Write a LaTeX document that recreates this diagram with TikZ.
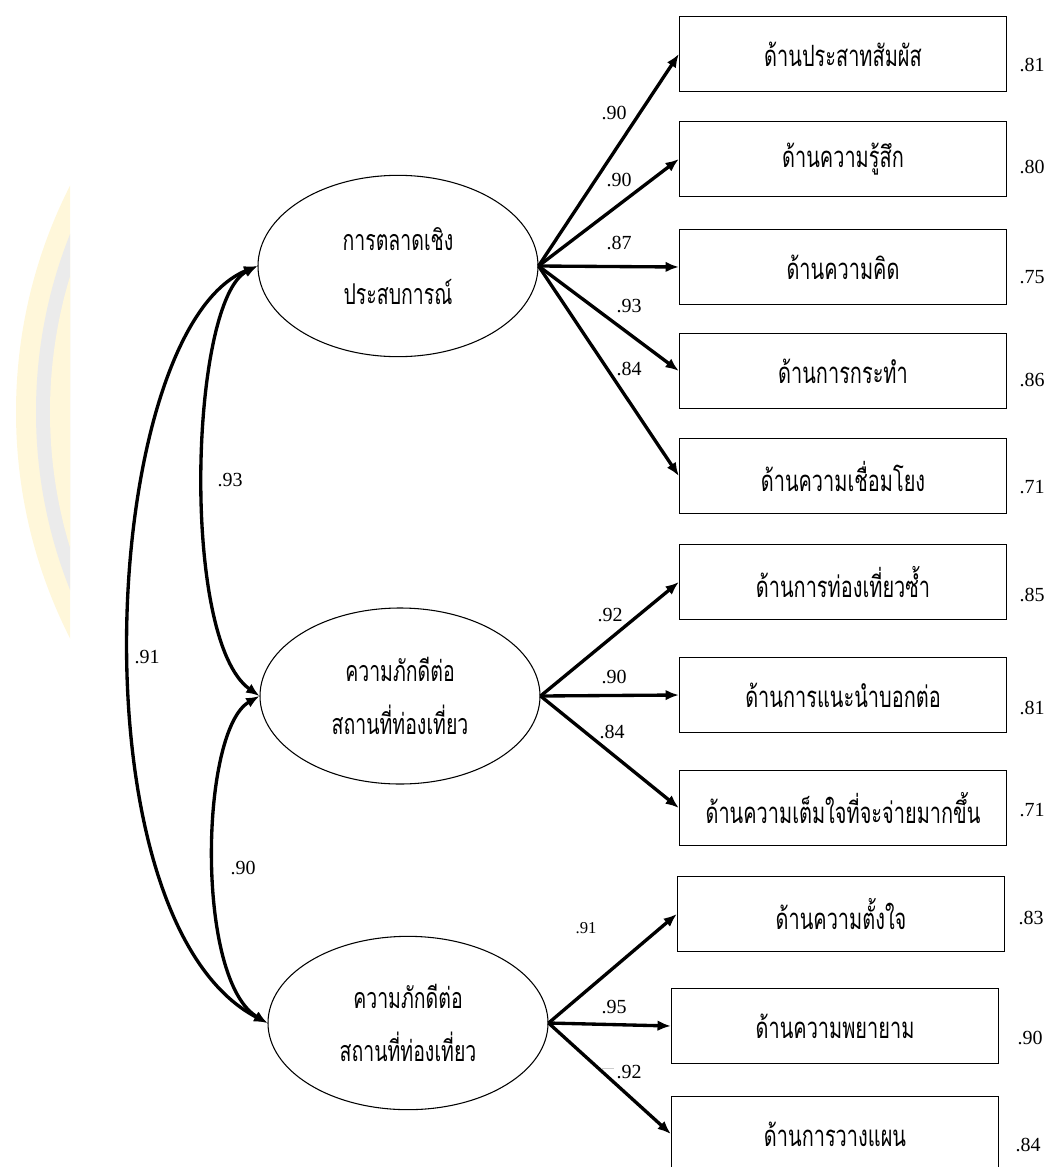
\documentclass[tikz,border=0pt]{standalone}
\usepackage{fontspec}
\setmainfont{Liberation Serif}
\newfontfamily\thai[Script=Thai,FakeStretch=0.68]{Loma}
\usetikzlibrary{arrows.meta,shapes.geometric}
\definecolor{wmyellow}{RGB}{255,247,218}
\definecolor{wmgray}{RGB}{235,235,235}
\tikzset{
  latent/.style={ellipse, draw, line width=0.8pt, minimum width=210pt, inner sep=0pt,
    font=\thai\fontsize{21.5}{40}\selectfont, align=center},
  obsbox/.style={rectangle, draw, line width=1.2pt, minimum width=245pt, minimum height=56pt,
    inner sep=0pt, font=\thai\fontsize{22}{24}\selectfont},
  loadarrow/.style={line width=2.5pt, -{Latex[length=10pt,width=8pt]}},
  covarrow/.style={line width=2.5pt, {Latex[length=10pt,width=8pt]}-{Latex[length=10pt,width=8pt]}},
  coef/.style={font=\fontsize{15}{17}\selectfont, inner sep=0pt},
  smallcoef/.style={font=\fontsize{12.5}{14}\selectfont, inner sep=0pt},
}
\begin{document}
\begin{tikzpicture}[x=0.75pt,y=-0.75pt]
\useasboundingbox (0,0) rectangle (1048,1167);
\clip (0,0) rectangle (1048,1167);
% watermark
\begin{scope}
\clip (0,0) rectangle (70,1167);
\fill[wmyellow] (516,412) circle[radius=500];
\fill[wmgray] (516,412) circle[radius=480];
\fill[wmyellow] (516,412) circle[radius=466];
\fill[white] (516,412) circle[radius=446];
\end{scope}
% latent variables
\node[latent, minimum height=136pt] (E1) at (398,266) {การตลาดเชิง\\ประสบการณ์};
\node[latent, minimum height=132pt] (E2) at (400,696) {ความภักดีต่อ\\สถานที่ท่องเที่ยว};
\node[latent, minimum height=130pt] (E3) at (408,1023) {ความภักดีต่อ\\สถานที่ท่องเที่ยว};
% observed variables
\node[obsbox] (b1) at (843,54) {ด้านประสาทสัมผัส};
\node[obsbox] (b2) at (843,159) {ด้านความรู้สึก};
\node[obsbox] (b3) at (843,267) {ด้านความคิด};
\node[obsbox] (b4) at (843,371) {ด้านการกระทำ};
\node[obsbox] (b5) at (843,476) {ด้านความเชื่อมโยง};
\node[obsbox] (b6) at (843,582) {ด้านการท่องเที่ยวซ้ำ};
\node[obsbox] (b7) at (843,695) {ด้านการแนะนำบอกต่อ};
\node[obsbox] (b8) at (843,808) {ด้านความเต็มใจที่จะจ่ายมากขึ้น};
\node[obsbox] (b9) at (841,914) {ด้านความตั้งใจ};
\node[obsbox] (b10) at (835,1026) {ด้านความพยายาม};
\node[obsbox] (b11) at (835,1134) {ด้านการวางแผน};
% loadings
\foreach \b in {b1,b2,b3,b4,b5} \draw[loadarrow] (E1.east) -- (\b.west);
\foreach \b in {b6,b7,b8} \draw[loadarrow] (E2.east) -- (\b.west);
\foreach \b in {b9,b10,b11} \draw[loadarrow] (E3.east) -- (\b.west);
% covariances
\draw[covarrow] (E1.west) .. controls (100,330) and (70,920) .. (E3.west);
\draw[covarrow] (E1.west) .. controls (190,300) and (180,640) .. (E2.west);
\draw[covarrow] (E2.west) .. controls (200,730) and (195,980) .. (E3.west);
% coefficient labels
\node[coef] (l1) at (614,113) {.90};
\node[coef] (l2) at (619,180) {.90};
\node[coef] (l3) at (619,243) {.87};
\node[coef] (l4) at (629,306) {.93};
\node[coef] (l5) at (629,369) {.84};
\node[coef] (l6) at (610,615) {.92};
\node[coef] (l7) at (614,677) {.90};
\node[coef] (l8) at (612,732) {.84};
\node[smallcoef] (l9) at (586,928) {.91};
\node[coef] (l10) at (614,1007) {.95};
\node[coef] (l11) at (629,1072) {.92};
\draw[gray!40, line width=0.6pt] (601,1068) -- (614,1068);
\node[coef] (c1) at (230,480) {.93};
\node[coef] (c2) at (147,657) {.91};
\node[coef] (c3) at (243,868) {.90};
% values beside the boxes
\node[coef] (r1) at (1032,65) {.81};
\node[coef] (r2) at (1032,167) {.80};
\node[coef] (r3) at (1032,277) {.75};
\node[coef] (r4) at (1032,380) {.86};
\node[coef] (r5) at (1032,487) {.71};
\node[coef] (r6) at (1032,595) {.85};
\node[coef] (r7) at (1032,708) {.81};
\node[coef] (r8) at (1032,810) {.71};
\node[coef] (r9) at (1031,918) {.83};
\node[coef] (r10) at (1030,1038) {.90};
\node[coef] (r11) at (1028,1145) {.84};
\end{tikzpicture}
\end{document}
